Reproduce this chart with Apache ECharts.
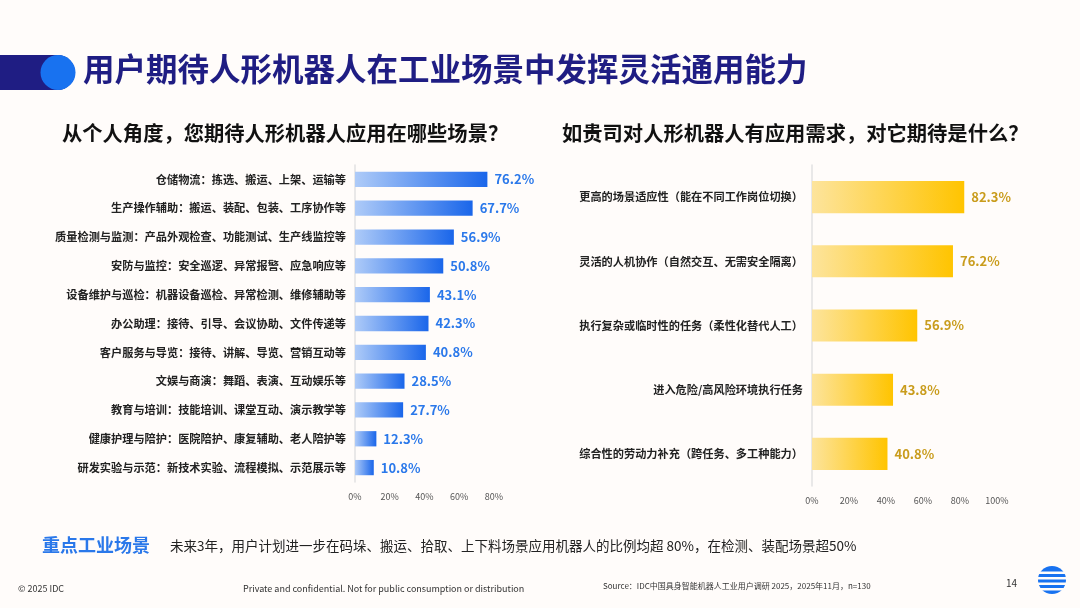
<!DOCTYPE html>
<html><head><meta charset="utf-8">
<script src="https://cdn.jsdelivr.net/npm/echarts@6/dist/echarts.min.js"></script>
<style>html,body{margin:0;padding:0;background:#fffcfa;}#c{width:1080px;height:608px;}</style>
</head><body><div id="c"></div>
<script>
const leftCategories = ['仓储物流：拣选、搬运、上架、运输等','生产操作辅助：搬运、装配、包装、工序协作等','质量检测与监测：产品外观检查、功能测试、生产线监控等','安防与监控：安全巡逻、异常报警、应急响应等','设备维护与巡检：机器设备巡检、异常检测、维修辅助等','办公助理：接待、引导、会议协助、文件传递等','客户服务与导览：接待、讲解、导览、营销互动等','文娱与商演：舞蹈、表演、互动娱乐等','教育与培训：技能培训、课堂互动、演示教学等','健康护理与陪护：医院陪护、康复辅助、老人陪护等','研发实验与示范：新技术实验、流程模拟、示范展示等'];
const leftValues = [76.2,67.7,56.9,50.8,43.1,42.3,40.8,28.5,27.7,12.3,10.8];
const rightCategories = ['更高的场景适应性（能在不同工作岗位切换）','灵活的人机协作（自然交互、无需安全隔离）','执行复杂或临时性的任务（柔性化替代人工）','进入危险/高风险环境执行任务','综合性的劳动力补充（跨任务、多工种能力）'];
const rightValues = [82.3,76.2,56.9,43.8,40.8];
const leftTicks = [0,20,40,60,80];
const rightTicks = [0,20,40,60,80,100];

const FONT = '"Noto Sans CJK SC","Noto Sans",sans-serif';
const chart = echarts.init(document.getElementById('c'));

function valAxis(idx, ticks){
  return {gridIndex: idx, type:'value', min: ticks[0], max: ticks[ticks.length-1], interval: ticks[1]-ticks[0],
    axisLine:{show:false}, axisTick:{show:false}, splitLine:{show:false},
    axisLabel:{formatter:'{value}%', color:'#555', fontSize:9, fontFamily:FONT, margin:10}};
}
function catAxis(idx, cats){
  return {gridIndex: idx, type:'category', data: cats, inverse:true,
    axisLine:{show:true, lineStyle:{color:'#e2e2e2', width:1.5}}, axisTick:{show:false},
    axisLabel:{color:'#222', fontSize:11.2, fontWeight:'bold', fontFamily:FONT, margin:9}};
}

const option = {
  backgroundColor:'#fffcfa',
  animation:false,
  grid:[
    {left:355, width:139, top:165, height:317},
    {left:812, width:185, top:165, height:321}
  ],
  xAxis:[valAxis(0,leftTicks), valAxis(1,rightTicks)],
  yAxis:[catAxis(0,leftCategories), catAxis(1,rightCategories)],
  series:[
    {type:'bar', xAxisIndex:0, yAxisIndex:0, data:leftValues, barWidth:'53%',
      itemStyle:{color:new echarts.graphic.LinearGradient(0,0,1,0,[{offset:0,color:'#aecbf8'},{offset:1,color:'#1a66ea'}])},
      label:{show:true, position:'right', distance:7, formatter:'{c}%', color:'#2a78ea', fontSize:13, fontWeight:'bold', fontFamily:FONT}},
    {type:'bar', xAxisIndex:1, yAxisIndex:1, data:rightValues, barWidth:'50%',
      itemStyle:{color:new echarts.graphic.LinearGradient(0,0,1,0,[{offset:0,color:'#fde49c'},{offset:1,color:'#ffc400'}])},
      label:{show:true, position:'right', distance:7, formatter:'{c}%', color:'#c99c1c', fontSize:13, fontWeight:'bold', fontFamily:FONT}}
  ],
  graphic:[
    {type:'rect', shape:{x:-20, y:55, width:95, height:35, r:[0,17.5,17.5,0]}, style:{fill:'#1f1d83'}},
    {type:'circle', shape:{cx:58, cy:72.5, r:17.5}, style:{fill:'#1872f0'}},
    {type:'text', left:83, top:53, style:{text:'用户期待人形机器人在工业场景中发挥灵活通用能力', fill:'#1f1d83', font:'bold 31.5px '+FONT}},
    {type:'text', left:62, top:123, style:{text:'从个人角度，您期待人形机器人应用在哪些场景？', fill:'#111', font:'bold 20.3px '+FONT}},
    {type:'text', left:562, top:123, style:{text:'如贵司对人形机器人有应用需求，对它期待是什么？', fill:'#111', font:'bold 20.3px '+FONT}},
    {type:'text', left:42, top:536, style:{text:'重点工业场景', fill:'#2a78ea', font:'bold 18px '+FONT}},
    {type:'text', left:170, top:539, style:{text:'未来3年，用户计划进一步在码垛、搬运、拾取、上下料场景应用机器人的比例均超 80%，在检测、装配场景超50%', fill:'#222', font:'13.5px '+FONT}},
    {type:'text', left:18, top:584, style:{text:'© 2025 IDC', fill:'#333', font:'9px '+FONT}},
    {type:'text', left:243, top:584, style:{text:'Private and confidential. Not for public consumption or distribution', fill:'#333', font:'9px '+FONT}},
    {type:'text', left:603, top:582, style:{text:'Source：IDC中国具身智能机器人工业用户调研 2025，2025年11月，n=130', fill:'#333', font:'8px '+FONT}},
    {type:'text', left:1006, top:578, style:{text:'14', fill:'#333', font:'10px '+FONT}},
    {type:'group', children:[
      {type:'circle', shape:{cx:1052, cy:580, r:14}, style:{fill:'#1872f0'}},
      {type:'rect', shape:{x:1036, y:571.5, width:32, height:2.5}, style:{fill:'#fffcfa'}},
      {type:'rect', shape:{x:1036, y:577, width:32, height:2.5}, style:{fill:'#fffcfa'}},
      {type:'rect', shape:{x:1036, y:582.5, width:32, height:2.5}, style:{fill:'#fffcfa'}},
      {type:'rect', shape:{x:1036, y:588, width:32, height:2.5}, style:{fill:'#fffcfa'}}
    ]}
  ]
};
chart.setOption(option);
</script>
</body></html>
